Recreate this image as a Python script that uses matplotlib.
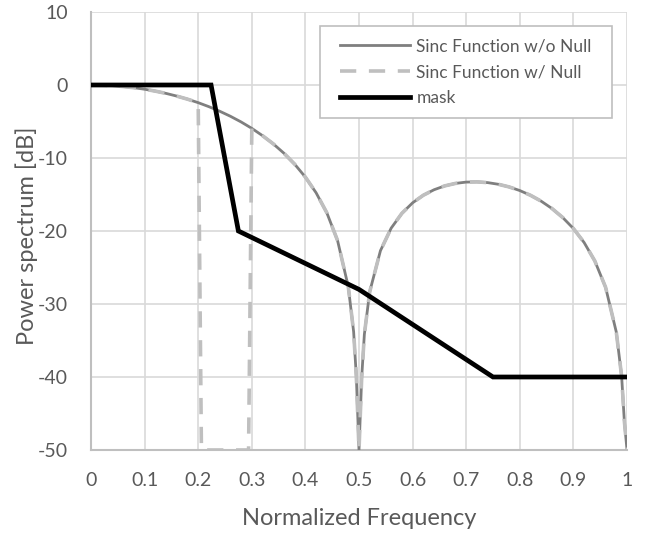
import numpy as np
import matplotlib
matplotlib.use('Agg')
import matplotlib.pyplot as plt
from matplotlib.patches import Rectangle

# sinc power spectrum (dB), clipped at -50
freq = [0.00, 0.02, 0.04, 0.06, 0.08, 0.10, 0.12, 0.14, 0.16, 0.18,
        0.20, 0.22, 0.24, 0.26, 0.28, 0.30, 0.32, 0.34, 0.36, 0.38,
        0.40, 0.42, 0.44, 0.46, 0.48, 0.49, 0.495, 0.50, 0.505, 0.51,
        0.52, 0.54, 0.56, 0.58, 0.60, 0.62, 0.64, 0.66, 0.68, 0.70,
        0.72, 0.74, 0.76, 0.78, 0.80, 0.82, 0.84, 0.86, 0.88, 0.90,
        0.92, 0.94, 0.96, 0.98, 0.99, 0.995, 1.00]
sinc_db = [0.0, -0.02, -0.09, -0.21, -0.37, -0.58, -0.84, -1.15, -1.52, -1.94,
           -2.42, -2.97, -3.59, -4.28, -5.06, -5.94, -6.94, -8.06, -9.35, -10.85,
           -12.62, -14.77, -17.51, -21.31, -27.63, -33.81, -39.91, -50.0, -40.09, -34.16,
           -28.32, -22.70, -19.61, -17.58, -16.14, -15.10, -14.35, -13.82, -13.48, -13.30,
           -13.27, -13.37, -13.60, -13.96, -14.46, -15.11, -15.92, -16.92, -18.15, -19.66,
           -21.58, -24.11, -27.70, -33.83, -39.92, -45.98, -50.0]

# null inserted between these frequencies
null_freq = [0.206, 0.294]
null_db = [-50.0, -50.0]

mask_freq = [0.0, 0.224, 0.275, 0.50, 0.75, 1.0]
mask_db = [0, 0, -20, -28, -40, -40]

xtick_labels = ['0', '0.1', '0.2', '0.3', '0.4', '0.5', '0.6', '0.7', '0.8', '0.9', '1']

f = np.array(freq)
s = np.array(sinc_db)
lo = f <= 0.2
hi = f >= 0.3
null_f = np.concatenate([f[lo], null_freq, f[hi]])
null_s = np.concatenate([s[lo], null_db, s[hi]])

plt.rcParams['font.family'] = ['Lato', 'DejaVu Sans']
plt.rcParams['axes.unicode_minus'] = False
txt = '#595959'

fig = plt.figure(figsize=(6.51, 5.35), dpi=100)
ax = fig.add_axes([91/651, 85/535, 536/651, 438/535])

ax.plot(f, s, color='#7f7f7f', lw=2.0, label='Sinc Function w/o Null', zorder=3)
ax.plot(null_f, null_s, color='#bfbfbf', lw=2.6, ls=(0, (4.5, 3.5)),
        label='Sinc Function w/ Null', zorder=4)
ax.plot(mask_freq, mask_db, color='black', lw=3.4, label='mask', zorder=5,
        solid_joinstyle='miter')

ax.set_xlim(0, 1)
ax.set_ylim(-50, 10)
ax.set_xticks(np.arange(0, 1.01, 0.1))
ax.set_xticklabels(xtick_labels)
ax.set_yticks(np.arange(-50, 11, 10))
ax.grid(True, color='#d9d9d9', lw=1.2)
ax.set_axisbelow(True)
for side in ['top', 'right']:
    ax.spines[side].set_visible(False)
for side in ['left', 'bottom']:
    ax.spines[side].set_color('#bfbfbf')
    ax.spines[side].set_linewidth(1.5)
ax.tick_params(length=0, labelsize=14, colors=txt)
ax.tick_params(axis='x', pad=16)
ax.tick_params(axis='y', pad=16.5)

ax.set_xlabel('Normalized Frequency', fontsize=17, color=txt)
ax.xaxis.set_label_coords(0.5, -0.132)
ax.set_ylabel('Power spectrum [dB]', fontsize=17, color=txt)
ax.yaxis.set_label_coords(-0.099, 0.489)

# legend box
ax.add_patch(Rectangle((0.427, 0.758), 0.545, 0.21, transform=ax.transAxes,
                       facecolor='white', edgecolor='#bfbfbf', lw=1.2, zorder=6))
leg = ax.legend(loc='center', bbox_to_anchor=(0.6996, 0.863),
                fontsize=12.5, frameon=False, handlelength=4.0, handletextpad=0.4,
                labelspacing=0.57, borderpad=0)
leg.set_zorder(7)
for t in leg.get_texts():
    t.set_color(txt)

fig.savefig('out.png', dpi=100)
